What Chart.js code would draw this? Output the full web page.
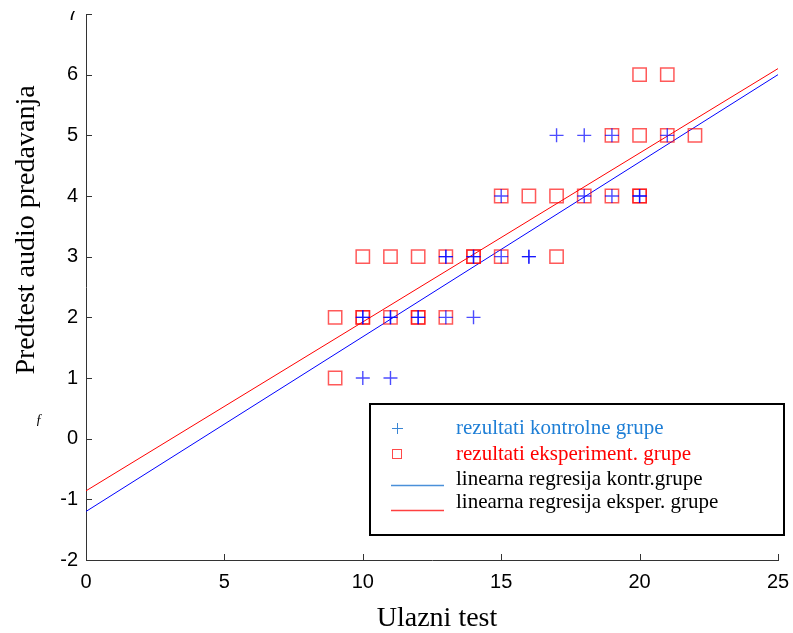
<!DOCTYPE html>
<html>
<head>
<meta charset="utf-8">
<script src="https://cdn.jsdelivr.net/npm/chart.js@4"></script>
<style>
  html, body { margin: 0; padding: 0; background: #fff; }
</style>
</head>
<body>
<canvas id="myChart" width="793" height="633"></canvas>
<script>
// kontrolna grupa: ulazni test / predtest (ponovljene tacke = vise ucenika)
const kontrolaX = [10, 11, 10, 10, 11, 11, 12, 12, 13, 14, 13, 13, 14, 14, 15, 16, 16, 15, 18, 19, 20, 20, 17, 18, 19, 21];
const kontrolaY = [1, 1, 2, 2, 2, 2, 2, 2, 2, 2, 3, 3, 3, 3, 3, 3, 3, 4, 4, 4, 4, 4, 5, 5, 5, 5];

// eksperimentalna grupa
const eksperX = [9, 9, 10, 10, 11, 12, 12, 13, 10, 11, 12, 13, 14, 14, 15, 17, 15, 16, 17, 18, 19, 20, 20, 19, 20, 21, 22, 20, 21];
const eksperY = [1, 2, 2, 2, 2, 2, 2, 2, 3, 3, 3, 3, 3, 3, 3, 3, 4, 4, 4, 4, 4, 4, 4, 5, 5, 5, 5, 6, 6];

// regresione prave (krajnje tacke)
const regX = [0, 25];
const regKontrola = [-1.2, 6.0];
const regEksper = [-0.86, 6.1];

const xTicks = [0, 5, 10, 15, 20, 25];
const yTicks = [-2, -1, 0, 1, 2, 3, 4, 5, 6, 7];

const toPoints = (xs, ys) => xs.map((x, i) => ({ x: x, y: ys[i] }));

const legendItems = [
  { mark: 'plus', color: '#3a86d4', textColor: '#1f7fd6', text: 'rezultati kontrolne grupe' },
  { mark: 'square', color: '#ff4a4a', textColor: '#ff0000', text: 'rezultati eksperiment. grupe' },
  { mark: 'line', color: '#4a90d9', textColor: '#000', text: 'linearna regresija kontr.grupe' },
  { mark: 'line', color: '#ff4040', textColor: '#000', text: 'linearna regresija eksper. grupe' }
];

const extrasPlugin = {
  id: 'extras',
  afterDraw(chart) {
    const ctx = chart.ctx;
    const xs = chart.scales.x, ys = chart.scales.y;
    const area = chart.chartArea;
    ctx.save();

    // top strip is cut off (the "7" only half shows)
    ctx.fillStyle = '#fff';
    ctx.fillRect(0, 0, area.left - 1, 11);

    // inward tick marks
    ctx.strokeStyle = '#333';
    ctx.lineWidth = 1;
    yTicks.forEach(v => {
      const py = Math.round(ys.getPixelForValue(v)) + 0.5;
      ctx.beginPath();
      ctx.moveTo(area.left, py);
      ctx.lineTo(area.left + 6, py);
      ctx.stroke();
    });
    xTicks.forEach(v => {
      const px = Math.round(xs.getPixelForValue(v)) + 0.5;
      ctx.beginPath();
      ctx.moveTo(px, area.bottom);
      ctx.lineTo(px, area.bottom - 6);
      ctx.stroke();
    });

    // axis titles
    ctx.fillStyle = '#000';
    ctx.font = '28px "Liberation Serif", "Times New Roman", serif';
    ctx.textAlign = 'center';
    ctx.textBaseline = 'middle';
    ctx.fillText('Ulazni test', 437, 619);
    ctx.save();
    ctx.translate(27, 230);
    ctx.rotate(-Math.PI / 2);
    ctx.fillText('Predtest audio predavanja', 0, 0);
    ctx.restore();

    ctx.font = 'italic 14px "Liberation Serif", serif';
    ctx.fillText('ƒ', 39, 420);

    // legend box
    ctx.fillStyle = '#fff';
    ctx.fillRect(370, 404, 414, 131);
    ctx.strokeStyle = '#000';
    ctx.lineWidth = 2;
    ctx.strokeRect(370, 404, 414, 131);

    const rowsY = [428, 454, 479, 502];
    ctx.font = '21px "Liberation Serif", "Times New Roman", serif';
    ctx.textAlign = 'left';
    legendItems.forEach((item, i) => {
      const cy = rowsY[i];
      ctx.strokeStyle = item.color;
      ctx.lineWidth = 1;
      if (item.mark === 'plus') {
        ctx.beginPath();
        ctx.moveTo(392, cy + 0.5); ctx.lineTo(403, cy + 0.5);
        ctx.moveTo(397.5, cy - 5); ctx.lineTo(397.5, cy + 6);
        ctx.stroke();
      } else if (item.mark === 'square') {
        ctx.strokeRect(392.5, cy - 4.5, 9, 9);
      } else {
        const ly = cy + (i === 2 ? 6 : 8) + 0.5;
        ctx.lineWidth = 1.3;
        ctx.beginPath();
        ctx.moveTo(391, ly); ctx.lineTo(444, ly);
        ctx.stroke();
      }
      ctx.fillStyle = item.textColor;
      ctx.fillText(item.text, 456, cy);
    });

    ctx.restore();
  }
};

const ctx = document.getElementById('myChart');

const myChart = new Chart(ctx, {
  type: 'scatter',
  data: {
    datasets: [
      {
        label: 'rezultati kontrolne grupe',
        data: toPoints(kontrolaX, kontrolaY),
        pointStyle: 'cross',
        pointRadius: 7,
        pointBorderWidth: 1.4,
        borderColor: 'rgba(0, 0, 255, 0.7)',
        backgroundColor: 'rgba(0, 0, 255, 0.7)'
      },
      {
        label: 'rezultati eksperiment. grupe',
        data: toPoints(eksperX, eksperY),
        pointStyle: 'rect',
        pointRadius: 9.4,
        pointBorderWidth: 1.5,
        borderColor: 'rgba(255, 0, 0, 0.65)',
        backgroundColor: 'rgba(0, 0, 0, 0)'
      },
      {
        type: 'line',
        label: 'linearna regresija kontr.grupe',
        data: toPoints(regX, regKontrola),
        borderColor: '#0000ff',
        borderWidth: 1,
        pointRadius: 0,
        fill: false
      },
      {
        type: 'line',
        label: 'linearna regresija eksper. grupe',
        data: toPoints(regX, regEksper),
        borderColor: '#ff0000',
        borderWidth: 1,
        pointRadius: 0,
        fill: false
      }
    ]
  },
  options: {
    responsive: false,
    animation: false,
    events: [],
    layout: { padding: { top: 14, right: 15, left: 0, bottom: 0 } },
    plugins: {
      legend: { display: false },
      tooltip: { enabled: false }
    },
    scales: {
      x: {
        type: 'linear',
        min: 0,
        max: 25,
        afterFit: scale => {
          scale.height = 73;
          scale.paddingLeft = 0;
          scale.paddingRight = 0;
        },
        afterBuildTicks: scale => { scale.ticks = xTicks.map(v => ({ value: v })); },
        grid: { drawOnChartArea: false, drawTicks: false },
        border: { display: true, color: '#333', width: 1 },
        ticks: {
          color: '#000',
          padding: 10,
          maxRotation: 0,
          font: { family: '"Liberation Sans", Arial, sans-serif', size: 20 }
        }
      },
      y: {
        type: 'linear',
        min: -2,
        max: 7,
        afterFit: scale => {
          scale.width = 86;
          scale.paddingTop = 0;
          scale.paddingBottom = 0;
        },
        afterBuildTicks: scale => { scale.ticks = yTicks.map(v => ({ value: v })); },
        grid: { drawOnChartArea: false, drawTicks: false },
        border: { display: true, color: '#333', width: 1 },
        ticks: {
          color: '#000',
          padding: 8,
          font: { family: '"Liberation Sans", Arial, sans-serif', size: 20 }
        }
      }
    }
  },
  plugins: [extrasPlugin]
});
</script>
</body>
</html>
